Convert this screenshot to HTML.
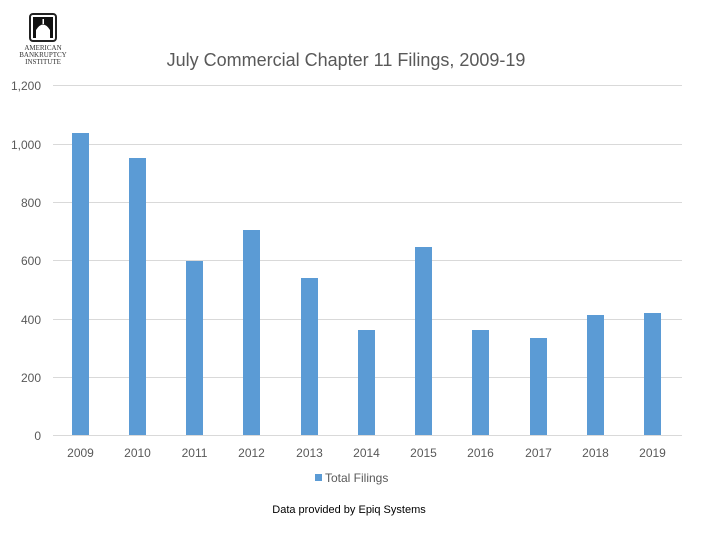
<!DOCTYPE html>
<html><head><meta charset="utf-8"><style>
body{margin:0;background:#fff;width:722px;height:530px;overflow:hidden;font-family:"Liberation Sans",sans-serif}
</style></head><body>
<svg width="722" height="530" xmlns="http://www.w3.org/2000/svg" font-family="Liberation Sans, sans-serif">
<rect width="722" height="530" fill="#fff"/>
<!-- logo -->
<rect x="30" y="14" width="26" height="27" rx="3" fill="#fff" stroke="#222" stroke-width="2"/>
<rect x="33" y="17" width="20" height="21" fill="#111"/>
<path d="M36 38 L36 30 Q43 19 50 30 L50 38 Z" fill="#fff"/>
<rect x="42.5" y="19" width="1.5" height="5" fill="#fff"/>
<text x="43" y="50" font-size="7" text-anchor="middle" fill="#333" font-family="Liberation Serif, serif">AMERICAN</text>
<text x="43" y="57" font-size="7" text-anchor="middle" fill="#333" font-family="Liberation Serif, serif">BANKRUPTCY</text>
<text x="43" y="64" font-size="7" text-anchor="middle" fill="#333" font-family="Liberation Serif, serif">INSTITUTE</text>
<text x="346" y="66" font-size="18" text-anchor="middle" fill="#595959">July Commercial Chapter 11 Filings, 2009-19</text>
<g stroke="#d9d9d9" stroke-width="1">
<line x1="53" y1="85.5" x2="682" y2="85.5"/>
<line x1="53" y1="144.5" x2="682" y2="144.5"/>
<line x1="53" y1="202.5" x2="682" y2="202.5"/>
<line x1="53" y1="260.5" x2="682" y2="260.5"/>
<line x1="53" y1="319.5" x2="682" y2="319.5"/>
<line x1="53" y1="377.5" x2="682" y2="377.5"/>
<line x1="53" y1="435.5" x2="682" y2="435.5"/>
</g>
<g font-size="12" fill="#595959" text-anchor="end">
<text x="41" y="90">1,200</text><text x="41" y="149">1,000</text><text x="41" y="207">800</text>
<text x="41" y="265">600</text><text x="41" y="324">400</text><text x="41" y="382">200</text><text x="41" y="440">0</text>
</g>
<g fill="#5b9bd5">
<rect x="72" y="133" width="17" height="302"/>
<rect x="129" y="158" width="17" height="277"/>
<rect x="186" y="261" width="17" height="174"/>
<rect x="243" y="230" width="17" height="205"/>
<rect x="301" y="278" width="17" height="157"/>
<rect x="358" y="330" width="17" height="105"/>
<rect x="415" y="247" width="17" height="188"/>
<rect x="472" y="330" width="17" height="105"/>
<rect x="530" y="338" width="17" height="97"/>
<rect x="587" y="315" width="17" height="120"/>
<rect x="644" y="313" width="17" height="122"/>
</g>
<g font-size="12" fill="#595959" text-anchor="middle">
<text x="80.5" y="457">2009</text><text x="137.5" y="457">2010</text><text x="194.5" y="457">2011</text>
<text x="251.5" y="457">2012</text><text x="309.5" y="457">2013</text><text x="366.5" y="457">2014</text>
<text x="423.5" y="457">2015</text><text x="480.5" y="457">2016</text><text x="538.5" y="457">2017</text>
<text x="595.5" y="457">2018</text><text x="652.5" y="457">2019</text>
</g>
<rect x="315" y="474" width="7" height="7" fill="#5b9bd5"/>
<text x="325" y="482" font-size="12" fill="#595959">Total Filings</text>
<text x="349" y="513" font-size="11" fill="#000" text-anchor="middle">Data provided by Epiq Systems</text>
</svg>
</body></html>
